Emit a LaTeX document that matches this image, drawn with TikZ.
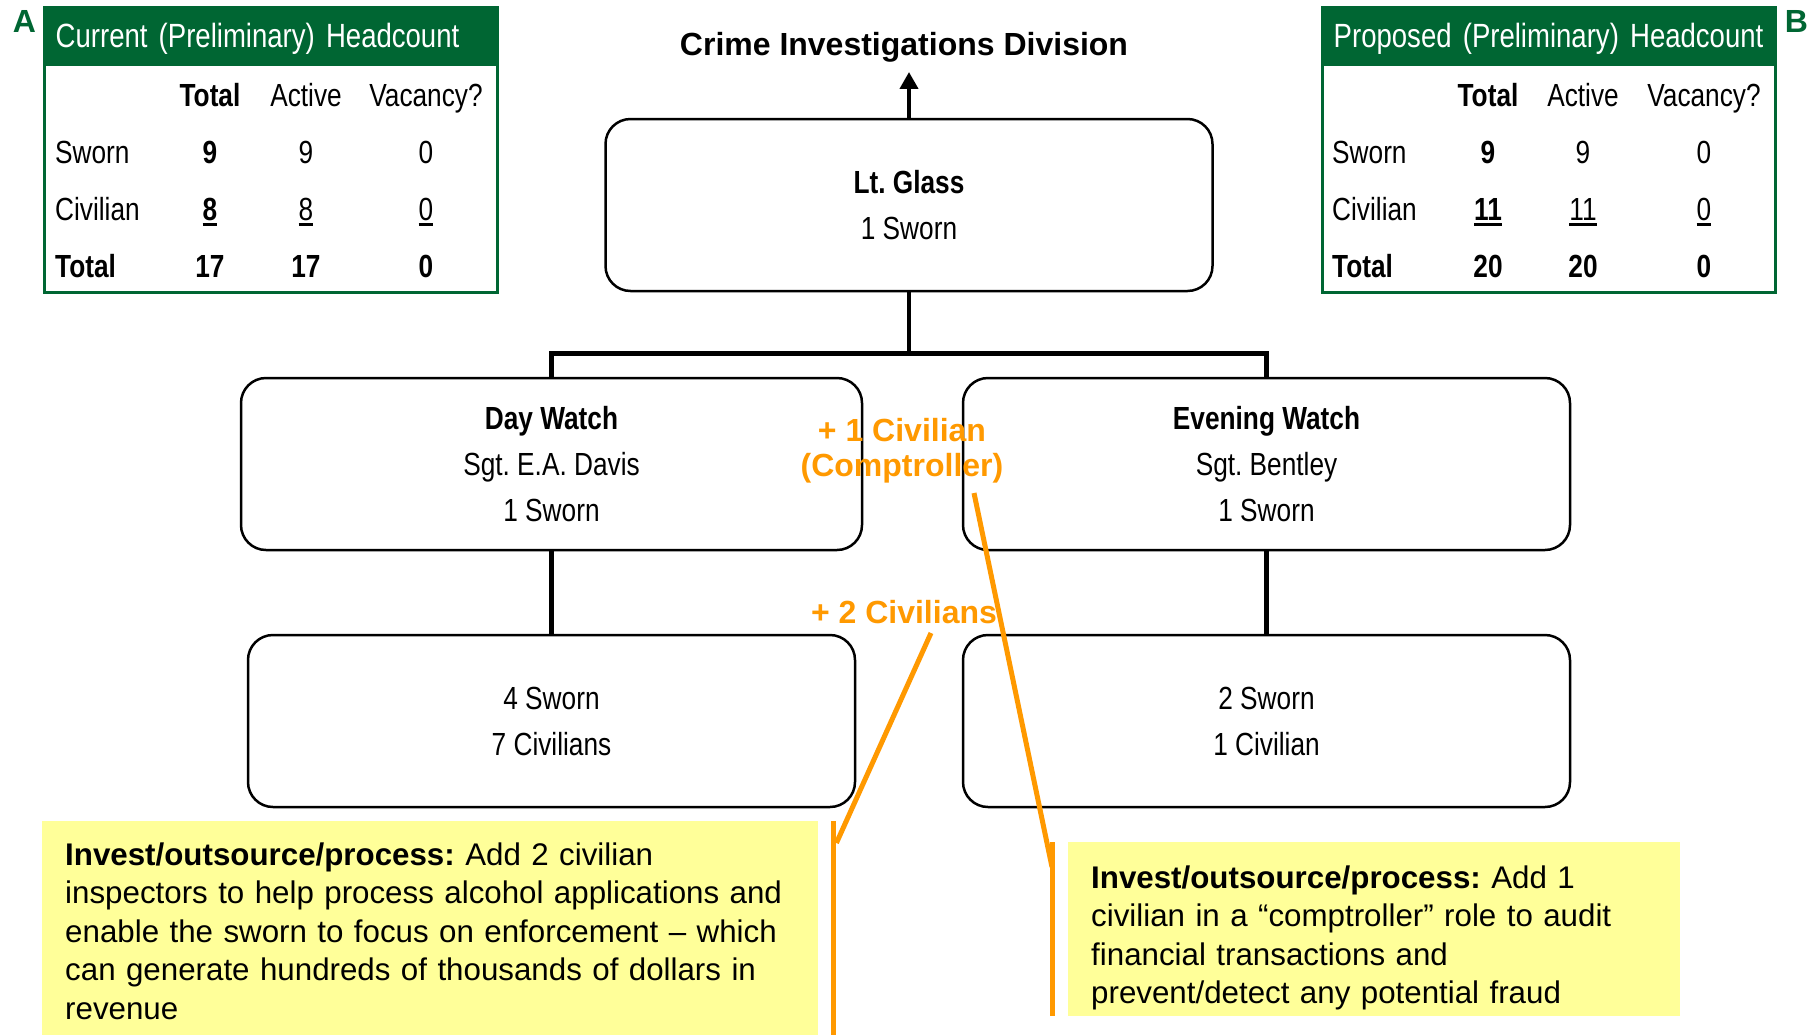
\documentclass[tikz,border=0pt]{standalone}
\usepackage{fontspec}
\setmainfont{Liberation Sans}
\newfontfamily\narrowfont[FakeStretch=0.82]{Liberation Sans}
\usetikzlibrary{arrows.meta,positioning}
\definecolor{headgreen}{HTML}{006633}
\definecolor{noteyellow}{HTML}{FFFF99}
\definecolor{addorange}{HTML}{FF9900}
\newcommand{\cellline}[1]{\setbox0\hbox{#1}\rlap{\rule[-6pt]{\wd0}{3pt}}\box0}
\frenchspacing

\begin{document}
\begin{tikzpicture}[x=1pt,y=-1pt]
\tikzstyle{org-box}=
[
	draw, fill=white, rounded corners=25pt, line width=2.5pt,
	minimum width=607pt, minimum height=172pt, align=center,
	font=\narrowfont\fontsize{32}{46}\selectfont
]
\tikzstyle{level 1}=[sibling distance=715pt, level distance=259pt]
\tikzstyle{level 2}=[level distance=257pt]
\tikzstyle{edge from parent}=[draw, line width=4.5pt]
\tikzstyle{table-frame}=[draw=headgreen, line width=3pt, minimum width=453pt, minimum height=285pt]
\tikzstyle{table-head}=
[
	fill=headgreen, text=white, anchor=north west, inner xsep=11pt,
	text width=431pt, minimum height=58pt, text height=25pt, text depth=3pt,
	font=\narrowfont\fontsize{33.6}{38}\selectfont
]
\tikzstyle{cell}=[anchor=base, inner sep=0pt, font=\narrowfont\fontsize{32}{38}\selectfont]
\tikzstyle{row-label}=[cell, anchor=base west]
\tikzstyle{corner-tag}=[text=headgreen, inner sep=0pt, font=\bfseries\fontsize{32}{38}\selectfont]
\tikzstyle{add-label}=[text=addorange, align=center, inner sep=0pt, font=\bfseries\fontsize{32}{35}\selectfont]
\tikzstyle{note-box}=
[
	fill=noteyellow, anchor=north west, inner xsep=23pt, align=left,
	font=\fontsize{31.3}{38.5}\selectfont
]
\tikzstyle{callout-line}=[draw=addorange, line width=5pt]

\path[use as bounding box, fill=white] (0,0) rectangle (1818,1034);

\node[font=\bfseries\fontsize{32}{38}\selectfont, inner sep=10pt, anchor=base] (division) at (904,55) {Crime Investigations Division};

\node[org-box] (lt-glass) at (909,205) {\textbf{Lt. Glass}\\1 Sworn}
	[edge from parent path={(\tikzparentnode.south) -- ++(0,-61pt) -| (\tikzchildnode.north)}]
	child {node[org-box, minimum width=621pt] (day-watch) {\textbf{Day Watch}\\Sgt. E.A. Davis\\1 Sworn}
		child {node[org-box] (day-staff) {4 Sworn\\7 Civilians}}
	}
	child {node[org-box] (evening-watch) {\textbf{Evening Watch}\\Sgt. Bentley\\1 Sworn}
		child {node[org-box] (evening-staff) {2 Sworn\\1 Civilian}}
	}
;
\draw[line width=4pt, -{Triangle[width=18pt,length=17pt]}] (lt-glass.north) -- (lt-glass.north |- division.south);

\node[table-head] (current-head) at (44.5,7.5) {Current (Preliminary) Headcount};
\node[table-frame] (current-frame) at (271,150) {};
\node[corner-tag] (tag-a) at (24.5,21.5) {A};
\node[cell] (current-total) at (210,106) {\bfseries Total};
\node[cell] (current-active) at (306,106) {Active};
\node[cell] (current-vacancy) at (426,106) {Vacancy?};
\node[row-label] (current-sworn) at (55,163) {Sworn};
\node[cell] (current-sworn-total) at (210,163) {\bfseries 9};
\node[cell] (current-sworn-active) at (306,163) {9};
\node[cell] (current-sworn-vacancy) at (426,163) {0};
\node[row-label] (current-civilian) at (55,220) {Civilian};
\node[cell] (current-civilian-total) at (210,220) {\bfseries\cellline{8}};
\node[cell] (current-civilian-active) at (306,220) {\cellline{8}};
\node[cell] (current-civilian-vacancy) at (426,220) {\cellline{0}};
\node[row-label] (current-sum) at (55,277) {\bfseries Total};
\node[cell] (current-sum-total) at (210,277) {\bfseries 17};
\node[cell] (current-sum-active) at (306,277) {\bfseries 17};
\node[cell] (current-sum-vacancy) at (426,277) {\bfseries 0};

\node[table-head] (proposed-head) at (1322.5,7.5) {Proposed (Preliminary) Headcount};
\node[table-frame] (proposed-frame) at (1549,150) {};
\node[corner-tag] (tag-b) at (1796.5,21.5) {B};
\node[cell] (proposed-total) at (1488,106) {\bfseries Total};
\node[cell] (proposed-active) at (1583,106) {Active};
\node[cell] (proposed-vacancy) at (1704,106) {Vacancy?};
\node[row-label] (proposed-sworn) at (1332,163) {Sworn};
\node[cell] (proposed-sworn-total) at (1488,163) {\bfseries 9};
\node[cell] (proposed-sworn-active) at (1583,163) {9};
\node[cell] (proposed-sworn-vacancy) at (1704,163) {0};
\node[row-label] (proposed-civilian) at (1332,220) {Civilian};
\node[cell] (proposed-civilian-total) at (1488,220) {\bfseries\cellline{11}};
\node[cell] (proposed-civilian-active) at (1583,220) {\cellline{11}};
\node[cell] (proposed-civilian-vacancy) at (1704,220) {\cellline{0}};
\node[row-label] (proposed-sum) at (1332,277) {\bfseries Total};
\node[cell] (proposed-sum-total) at (1488,277) {\bfseries 20};
\node[cell] (proposed-sum-active) at (1583,277) {\bfseries 20};
\node[cell] (proposed-sum-vacancy) at (1704,277) {\bfseries 0};

\node[add-label] (add-one) at (902,451) {+ 1 Civilian\\(Comptroller)};
\node[add-label, anchor=base] (add-two) at (904,623) {+ 2 Civilians};
\coordinate (tip-one) at (974,493);
\coordinate (tip-two) at (931,633);

\node[note-box, text width=730pt, minimum height=220pt] (note-day) at (42,821)
	{\textbf{Invest/outsource/process:} Add 2 civilian\\
	inspectors to help process alcohol applications and\\
	enable the sworn to focus on enforcement – which\\
	can generate hundreds of thousands of dollars in\\
	revenue};
\node[note-box, text width=566pt, minimum height=174pt] (note-fin) at (1068,842)
	{\rule{0pt}{40pt}\textbf{Invest/outsource/process:} Add 1\\
	civilian in a “comptroller” role to audit\\
	financial transactions and\\
	prevent/detect any potential fraud};

\draw[callout-line] ([xshift=15pt]note-day.north east) -- ([xshift=15pt]note-day.south east);
\draw[callout-line] (tip-two) -- ([xshift=18pt,yshift=-22pt]note-day.north east);
\draw[callout-line] ([xshift=-16pt]note-fin.north west) -- ([xshift=-16pt]note-fin.south west);
\draw[callout-line] (tip-one) -- ([xshift=-16pt,yshift=-25pt]note-fin.north west);
\end{tikzpicture}
\end{document}
